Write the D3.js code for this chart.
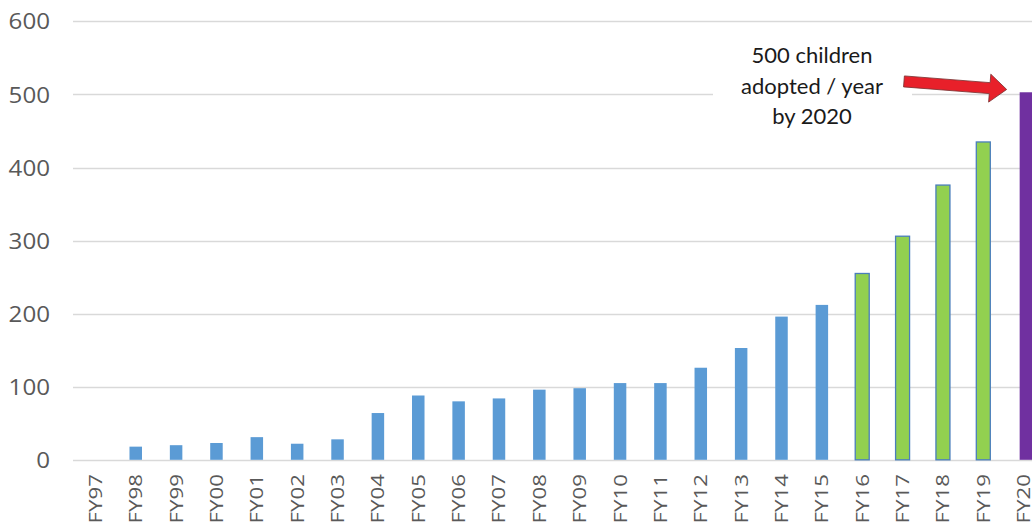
<!DOCTYPE html>
<html><head><meta charset="utf-8">
<script src="https://cdn.jsdelivr.net/npm/d3@7/dist/d3.min.js"></script>
<style>
html,body{margin:0;padding:0;background:#fff;overflow:hidden;}
svg{display:block;}
</style></head>
<body>
<svg id="chart" width="1032" height="527"></svg>
<script>
// ---- data ----
const categories = ["FY97","FY98","FY99","FY00","FY01","FY02","FY03","FY04","FY05","FY06","FY07","FY08","FY09","FY10","FY11","FY12","FY13","FY14","FY15","FY16","FY17","FY18","FY19","FY20"];
const actualValues = [0,18,20,23,31,22,28,64,88,80,84,96,98,105,105,126,153,196,212,null,null,null,null,null];
const projectedValues = [null,null,null,null,null,null,null,null,null,null,null,null,null,null,null,null,null,null,null,255,306,376,435,null];
const goalValues = [null,null,null,null,null,null,null,null,null,null,null,null,null,null,null,null,null,null,null,null,null,null,null,503];
const yTicks = [0,100,200,300,400,500,600];
const annotationLines = ["500 children","adopted / year","by 2020"];
const annotationTarget = {category:"FY20", value:500};

// ---- layout ----
const svg = d3.select("#chart");
const plotLeft = 75.2, step = 40.36;
const x = d3.scaleBand().domain(categories).range([plotLeft, plotLeft + step*categories.length]).padding(0);
const y = d3.scaleLinear().domain([0,600]).range([459.8, 21.4]);

// gridlines
svg.append("g").selectAll("line").data(yTicks).join("line")
  .attr("x1", 73).attr("x2", 1032)
  .attr("y1", d=>Math.round(y(d))+0.5).attr("y2", d=>Math.round(y(d))+0.5)
  .attr("stroke", "#d9d9d9").attr("stroke-width", 1.3);

// y-axis labels
const yAxis = d3.axisLeft(y).tickValues(yTicks).tickSize(0).tickPadding(0);
const yg = svg.append("g").attr("transform","translate(50,0)").call(yAxis);
yg.select(".domain").remove();
yg.selectAll("text").attr("font-family","'Open Sans', sans-serif").attr("font-size",21)
  .attr("fill","#595959").attr("transform","scale(1.15,1)").attr("x", 0).attr("dy","0.36em");

// x-axis labels
const xAxis = d3.axisBottom(x).tickSize(0).tickPadding(0);
const xg = svg.append("g").attr("transform","translate(0,474)").call(xAxis);
xg.select(".domain").remove();
xg.selectAll("text")
  .attr("font-family","'Open Sans', sans-serif").attr("font-size",18).attr("fill","#595959")
  .attr("text-anchor","end").attr("transform","rotate(-90) scale(1.24,1)").attr("x",0).attr("y",0).attr("dy","0.36em");

const cx = d => x(d) + x.bandwidth()/2;

// actual bars
const actual = categories.map((c,i)=>({c, v:actualValues[i]})).filter(d=>d.v!=null && d.v>0);
const bw = 12.5;
svg.append("g").selectAll("rect").data(actual).join("rect")
  .attr("x", d=>cx(d.c)-bw/2).attr("width", bw)
  .attr("y", d=>y(d.v)).attr("height", d=>y(0)-y(d.v))
  .attr("fill","#5b9bd5");

// projected bars
const proj = categories.map((c,i)=>({c, v:projectedValues[i]})).filter(d=>d.v!=null);
const gw = 14;
svg.append("g").selectAll("rect").data(proj).join("rect")
  .attr("x", d=>cx(d.c)-gw/2).attr("width", gw)
  .attr("y", d=>y(d.v)).attr("height", d=>y(0)-y(d.v))
  .attr("fill","#92d050").attr("stroke","#4a7ebb").attr("stroke-width",1.3);

// goal bar
const goal = categories.map((c,i)=>({c, v:goalValues[i]})).filter(d=>d.v!=null);
svg.append("g").selectAll("rect").data(goal).join("rect")
  .attr("x", d=>cx(d.c)-4).attr("width", 16)
  .attr("y", d=>y(d.v)).attr("height", d=>y(0)-y(d.v))
  .attr("fill","#7030a0");

// annotation
const ann = svg.append("g");
const tipX = cx(annotationTarget.category) - 17, tipY = y(annotationTarget.value) - 5;
ann.append("rect").attr("x", 713).attr("y", tipY-12).attr("width", 199).attr("height", 28).attr("fill","#fff");
ann.selectAll("text").data(annotationLines).join("text")
  .attr("x", 812).attr("y", (d,i)=>63 + i*30.5)
  .attr("text-anchor","middle").attr("font-family","Lato, sans-serif").attr("font-size",22)
  .attr("fill","#1a1a1a").text(d=>d);

// arrow
const len = 103, ang = Math.atan2(8, 102)*180/Math.PI;
const arrowPts = [[0,-5.5],[len-17,-5.5],[len-17,-14],[len,0],[len-17,14],[len-17,5.5],[0,5.5]];
ann.append("polygon")
  .attr("points", arrowPts.map(p=>p.join(",")).join(" "))
  .attr("transform", `translate(${tipX},${tipY}) rotate(${ang}) translate(${-len},0)`)
  .attr("fill","#e8202a").attr("stroke","#7a3030").attr("stroke-width",0.8);
</script>
</body></html>
